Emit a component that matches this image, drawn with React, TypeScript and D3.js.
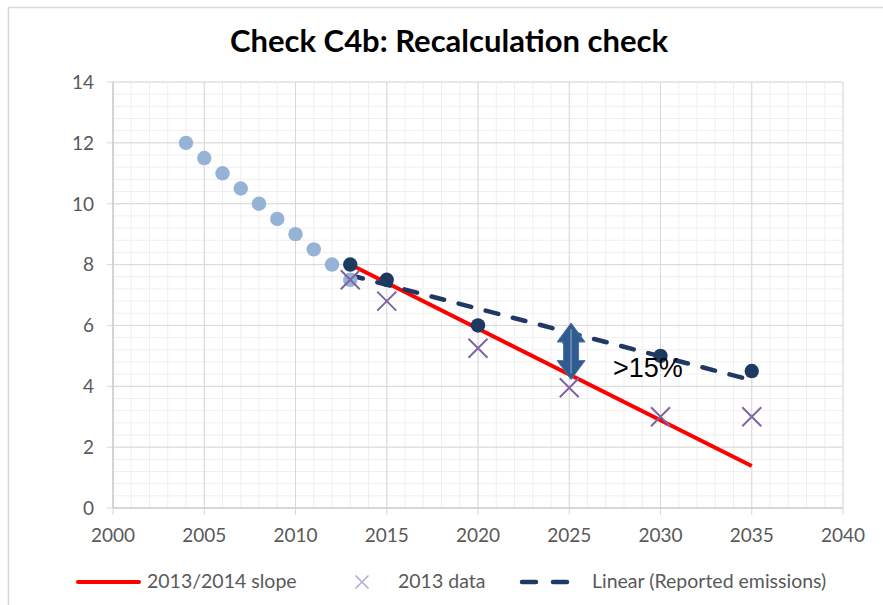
import React, { useEffect, useRef } from 'react';
import * as d3 from 'd3';

// historical series (light blue dots)
const histYears = [2004, 2005, 2006, 2007, 2008, 2009, 2010, 2011, 2012, 2013];
const histValues = [12, 11.5, 11, 10.5, 10, 9.5, 9, 8.5, 8, 7.5];

// reported emissions (dark dots)
const reportedYears = [2013, 2015, 2020, 2025, 2030, 2035];
const reportedValues = [8, 7.5, 6, 5.5, 5, 4.5];

// 2013 data (crosses)
const data2013Years = [2013, 2015, 2020, 2025, 2030, 2035];
const data2013Values = [7.5, 6.8, 5.25, 3.95, 3.0, 3.0];

// 2013/2014 slope (red line)
const slopeYears = [2013, 2035];
const slopeValues = [8, 1.38];

// linear trend of reported emissions (dashed)
const trendYears = [2013, 2035];
const trendValues = [7.65, 4.2];

// annotation
const arrowYear = 2025.1;
const arrowRange = [6.08, 4.22];
const labelPos = [2027.4, 4.3];
const labelText = '>15%';

const xTicks = [2000, 2005, 2010, 2015, 2020, 2025, 2030, 2035, 2040];
const yTicks = [0, 2, 4, 6, 8, 10, 12, 14];

const App = () => {
  const svgRef = useRef(null);

  useEffect(() => {
    const svg = d3.select(svgRef.current);
    svg.selectAll('*').remove();

    const W = 883;
    const H = 605;
    const font = 'Lato, "Open Sans", sans-serif';

    svg.attr('width', W).attr('height', H);

    // outer chart frame
    svg.append('rect')
      .attr('x', 8.5).attr('y', 7.5)
      .attr('width', W).attr('height', H)
      .attr('fill', '#fff')
      .attr('stroke', '#d9d9d9')
      .attr('stroke-width', 1.5);

    const xScale = d3.scaleLinear().domain([2000, 2040]).range([113, 843]);
    const yScale = d3.scaleLinear().domain([0, 14]).range([508, 82]);
    const [x0, x1] = xScale.range();
    const [y0, y1] = yScale.range();

    // title
    svg.append('text')
      .attr('x', 449)
      .attr('y', 52)
      .attr('text-anchor', 'middle')
      .style('font-family', font)
      .style('font-weight', 700)
      .style('font-size', '31px')
      .attr('fill', '#000')
      .text('Check C4b: Recalculation check');

    // minor gridlines
    const grid = svg.append('g');
    d3.range(2000, 2041, 1).forEach(v => {
      grid.append('line')
        .attr('x1', xScale(v)).attr('x2', xScale(v))
        .attr('y1', y0).attr('y2', y1)
        .attr('stroke', '#efefef').attr('stroke-width', 1);
    });
    d3.range(0, 14.01, 0.4).forEach(v => {
      grid.append('line')
        .attr('x1', x0).attr('x2', x1)
        .attr('y1', yScale(v)).attr('y2', yScale(v))
        .attr('stroke', '#efefef').attr('stroke-width', 1);
    });

    // major gridlines
    xTicks.forEach(v => {
      grid.append('line')
        .attr('x1', xScale(v)).attr('x2', xScale(v))
        .attr('y1', y0 + 7).attr('y2', y1)
        .attr('stroke', '#d9d9d9').attr('stroke-width', 1);
    });
    yTicks.forEach(v => {
      grid.append('line')
        .attr('x1', x0 - 6).attr('x2', x1)
        .attr('y1', yScale(v)).attr('y2', yScale(v))
        .attr('stroke', '#d9d9d9').attr('stroke-width', 1);
    });

    // axes lines
    svg.append('line')
      .attr('x1', x0).attr('x2', x0).attr('y1', y0).attr('y2', y1)
      .attr('stroke', '#c6c6c6').attr('stroke-width', 1.2);
    svg.append('line')
      .attr('x1', x0).attr('x2', x1).attr('y1', y0).attr('y2', y0)
      .attr('stroke', '#c6c6c6').attr('stroke-width', 1.2);

    // tick labels
    svg.append('g').selectAll('text')
      .data(yTicks)
      .join('text')
      .attr('x', 94)
      .attr('y', d => yScale(d))
      .attr('dy', '0.36em')
      .attr('text-anchor', 'end')
      .style('font-family', font)
      .style('font-size', '19px')
      .attr('fill', '#595959')
      .text(d => d);

    svg.append('g').selectAll('text')
      .data(xTicks)
      .join('text')
      .attr('x', d => xScale(d))
      .attr('y', 542)
      .attr('text-anchor', 'middle')
      .style('font-family', font)
      .style('font-size', '19px')
      .attr('fill', '#595959')
      .text(d => d);

    // red slope line
    const line = d3.line().x(d => xScale(d[0])).y(d => yScale(d[1]));
    svg.append('path')
      .datum(slopeYears.map((y, i) => [y, slopeValues[i]]))
      .attr('fill', 'none')
      .attr('stroke', '#ff0000')
      .attr('stroke-width', 4)
      .attr('d', line);

    // dashed trend
    svg.append('path')
      .datum(trendYears.map((y, i) => [y, trendValues[i]]))
      .attr('fill', 'none')
      .attr('stroke', '#203864')
      .attr('stroke-width', 4.5)
      .attr('stroke-linecap', 'round')
      .attr('stroke-dasharray', '13 15')
      .attr('d', line);

    // historical dots
    svg.append('g').selectAll('circle')
      .data(histYears.map((y, i) => [y, histValues[i]]))
      .join('circle')
      .attr('cx', d => xScale(d[0]))
      .attr('cy', d => yScale(d[1]))
      .attr('r', 7.2)
      .attr('fill', '#95b3d7');

    // 2013 data crosses
    const s = 9.5;
    svg.append('g').selectAll('path')
      .data(data2013Years.map((y, i) => [y, data2013Values[i]]))
      .join('path')
      .attr('d', d => {
        const cx = xScale(d[0]);
        const cy = yScale(d[1]);
        return `M${cx - s},${cy - s}L${cx + s},${cy + s}M${cx - s},${cy + s}L${cx + s},${cy - s}`;
      })
      .attr('stroke', '#8064a2')
      .attr('stroke-width', 2);

    // reported emissions dots
    svg.append('g').selectAll('circle')
      .data(reportedYears.map((y, i) => [y, reportedValues[i]]))
      .join('circle')
      .attr('cx', d => xScale(d[0]))
      .attr('cy', d => yScale(d[1]))
      .attr('r', 7.2)
      .attr('fill', '#1f3a60');

    // up-down arrow annotation
    const ax = xScale(arrowYear);
    const at = yScale(arrowRange[0]);
    const ab = yScale(arrowRange[1]);
    const hw = 14;
    const hh = 19;
    const sw = 7.5;
    const arrowPath = [
      [ax, at], [ax + hw, at + hh], [ax + sw, at + hh], [ax + sw, ab - hh],
      [ax + hw, ab - hh], [ax, ab], [ax - hw, ab - hh], [ax - sw, ab - hh],
      [ax - sw, at + hh], [ax - hw, at + hh]
    ];
    svg.append('path')
      .attr('d', 'M' + arrowPath.map(p => p.join(',')).join('L') + 'Z')
      .attr('fill', '#2f5b8e')
      .attr('stroke', '#4a74a8')
      .attr('stroke-width', 1);
    svg.append('line')
      .attr('x1', ax).attr('x2', ax)
      .attr('y1', at + 6).attr('y2', ab - 6)
      .attr('stroke', '#6d92c2')
      .attr('stroke-width', 1.5);

    svg.append('text')
      .attr('x', xScale(labelPos[0]))
      .attr('y', yScale(labelPos[1]))
      .style('font-family', '"Liberation Sans", Arial, sans-serif')
      .style('font-size', '27px')
      .attr('fill', '#000')
      .text(labelText);

    // legend
    const legend = svg.append('g');
    const ly = 582;
    const legendFont = (sel) => sel
      .style('font-family', font)
      .style('font-size', '19.5px')
      .attr('fill', '#595959')
      .attr('dy', '0.36em');

    legend.append('line')
      .attr('x1', 78).attr('x2', 139)
      .attr('y1', ly).attr('y2', ly)
      .attr('stroke', '#ff0000')
      .attr('stroke-width', 4)
      .attr('stroke-linecap', 'round');
    legend.append('text')
      .attr('x', 147).attr('y', ly - 1)
      .call(legendFont)
      .text('2013/2014 slope');

    const lx = 362;
    const ls = 6.5;
    legend.append('path')
      .attr('d', `M${lx - ls},${ly - ls}L${lx + ls},${ly + ls}M${lx - ls},${ly + ls}L${lx + ls},${ly - ls}`)
      .attr('stroke', '#b4a7d6')
      .attr('stroke-width', 1.5);
    legend.append('text')
      .attr('x', 398).attr('y', ly - 1)
      .call(legendFont)
      .text('2013 data');

    legend.append('line')
      .attr('x1', 522).attr('x2', 569)
      .attr('y1', ly).attr('y2', ly)
      .attr('stroke', '#203864')
      .attr('stroke-width', 4.5)
      .attr('stroke-linecap', 'round')
      .attr('stroke-dasharray', '14 17');
    legend.append('text')
      .attr('x', 592).attr('y', ly - 1)
      .call(legendFont)
      .text('Linear (Reported emissions)');
  }, []);

  return (
    <svg ref={svgRef} style={{ position: 'absolute', left: 0, top: 0, display: 'block' }}></svg>
  );
};

export default App;
